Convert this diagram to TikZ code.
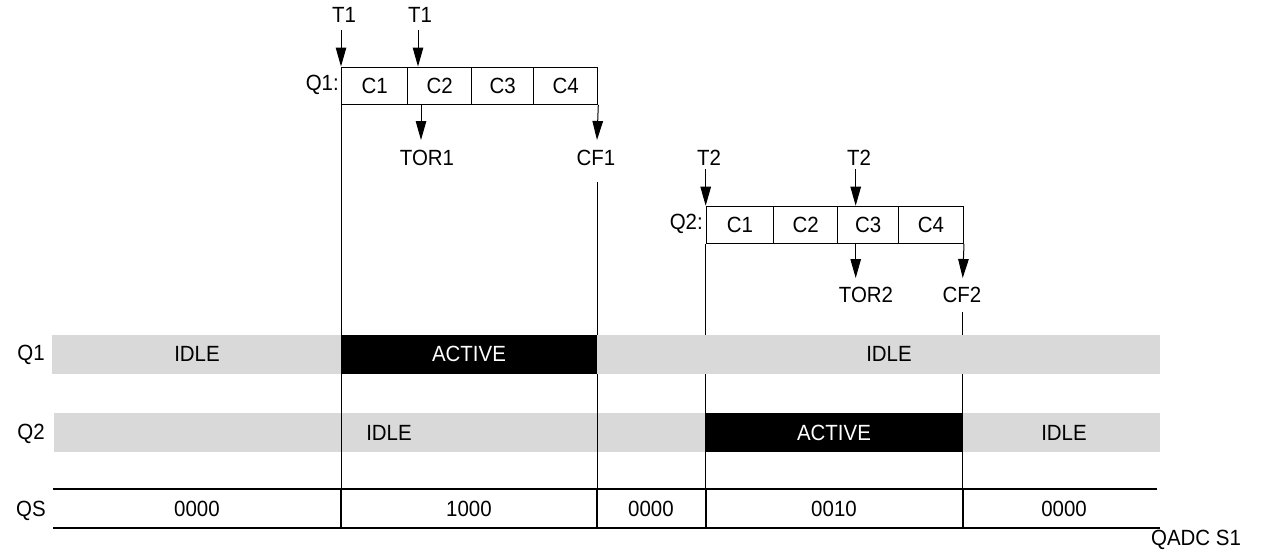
\documentclass[tikz,border=0pt]{standalone}
\usepackage{fontspec}
\setmainfont{Liberation Sans}[FakeStretch=0.93]
\usetikzlibrary{arrows.meta}
\definecolor{idlegray}{HTML}{D9D9D9}
\begin{document}
\begin{tikzpicture}[x=1pt,y=-1pt,
  lbl/.style={font=\fontsize{22}{26}\selectfont, inner sep=0pt},
  whitelbl/.style={lbl, text=white},
  cell/.style={draw, line width=1.3pt, inner sep=0pt, minimum height=37pt,
    anchor=north west, font=\fontsize{22}{26}\selectfont},
  arr/.style={line width=1pt, -{Triangle[length=19pt,width=10.5pt]}},
  vline/.style={line width=1pt},
  qsline/.style={line width=2pt},
  qsdiv/.style={line width=1.6pt}]
\useasboundingbox (0,0) rectangle (1262,552);

% ---- Q1 queue box
\node[cell, minimum width=66pt] (q1c1) at (341,66.5) {C1};
\node[cell, minimum width=64pt] (q1c2) at (407,66.5) {C2};
\node[cell, minimum width=62pt] (q1c3) at (471,66.5) {C3};
\node[cell, minimum width=64pt] (q1c4) at (533,66.5) {C4};
\node[lbl, anchor=east] (q1name) at (339,85) {Q1:};

\node[lbl] (t1a) at (344,15) {T1};
\node[lbl] (t1b) at (420,15) {T1};
\node[lbl] (tor1) at (427,158) {TOR1};
\node[lbl] (cf1) at (596,158) {CF1};

\coordinate (t1atop) at (341,30);
\coordinate (t1btop) at (418,30);
\coordinate (t1btip) at (418,66.5);
\coordinate (tor1top) at (421,103.5);
\coordinate (tor1tip) at (421,140);
\coordinate (cf1tip) at (597,140);

\draw[arr] (t1atop) -- (q1c1.north west);
\draw[arr] (t1btop) -- (t1btip);
\draw[arr] (tor1top) -- (tor1tip);
\draw[arr] (q1c4.south east) -- (cf1tip);

% ---- Q2 queue box
\node[cell, minimum width=67.3pt] (q2c1) at (705.7,205.7) {C1};
\node[cell, minimum width=64pt] (q2c2) at (773,205.7) {C2};
\node[cell, minimum width=61pt] (q2c3) at (837,205.7) {C3};
\node[cell, minimum width=64.7pt] (q2c4) at (898,205.7) {C4};
\node[lbl, anchor=east] (q2name) at (703,224) {Q2:};

\node[lbl] (t2a) at (709,158) {T2};
\node[lbl] (t2b) at (859,158) {T2};
\node[lbl] (tor2) at (866,295) {TOR2};
\node[lbl] (cf2) at (962,295) {CF2};

\coordinate (t2atop) at (705.7,169);
\coordinate (t2btop) at (855.7,169);
\coordinate (t2btip) at (855.7,205.7);
\coordinate (tor2top) at (855.7,242.7);
\coordinate (tor2tip) at (855.7,278);
\coordinate (cf2tip) at (962.7,278);

\draw[arr] (t2atop) -- (q2c1.north west);
\draw[arr] (t2btop) -- (t2btip);
\draw[arr] (tor2top) -- (tor2tip);
\draw[arr] (q2c4.south east) -- (cf2tip);

% ---- Q2 bar (under the lines)
\fill[idlegray] (54,413) rectangle (1160,452);
\fill[black] (706,413) rectangle (962,452);

% ---- QS row coordinates
\coordinate (qsb1) at (341,528);
\coordinate (qsb2) at (597,528);
\coordinate (qsb3) at (705.7,528);
\coordinate (qsb4) at (962.7,528);
\coordinate (cf1bot) at (597,182);
\coordinate (cf2bot) at (962.7,312);

% ---- vertical time lines
\draw[vline] (q1c1.south west) -- (qsb1);
\draw[vline] (cf1bot) -- (qsb2);
\draw[vline] (q2c1.south west) -- (qsb3);
\draw[vline] (cf2bot) -- (qsb4);

% ---- QS row
\draw[qsline] (53,488.5) -- (1157,488.5);
\draw[qsline] (53,527.5) -- (1160,527.5);
\draw[qsdiv] (341,488.5) -- (qsb1);
\draw[qsdiv] (597,488.5) -- (qsb2);
\draw[qsdiv] (705.7,488.5) -- (qsb3);
\draw[qsdiv] (962.7,488.5) -- (qsb4);

% ---- Q1 bar (over the lines)
\fill[idlegray] (52,335) rectangle (1160,374);
\fill[black] (341,335) rectangle (597,374);

% ---- row labels
\node[lbl] (rq1) at (31,355) {Q1};
\node[lbl] (rq2) at (31,434) {Q2};
\node[lbl] (rqs) at (31,511) {QS};

\node[lbl] (q1idle1) at (197,354) {IDLE};
\node[whitelbl] (q1act) at (469,354) {ACTIVE};
\node[lbl] (q1idle2) at (889,354) {IDLE};

\node[lbl] (q2idle1) at (389,433) {IDLE};
\node[whitelbl] (q2act) at (834,433) {ACTIVE};
\node[lbl] (q2idle2) at (1064,433) {IDLE};

\node[lbl] (qs1) at (197,509) {0000};
\node[lbl] (qs2) at (469,509) {1000};
\node[lbl] (qs3) at (651,509) {0000};
\node[lbl] (qs4) at (834,509) {0010};
\node[lbl] (qs5) at (1064,509) {0000};

\node[lbl] (fig) at (1196,540) {QADC S1};
\end{tikzpicture}
\end{document}
